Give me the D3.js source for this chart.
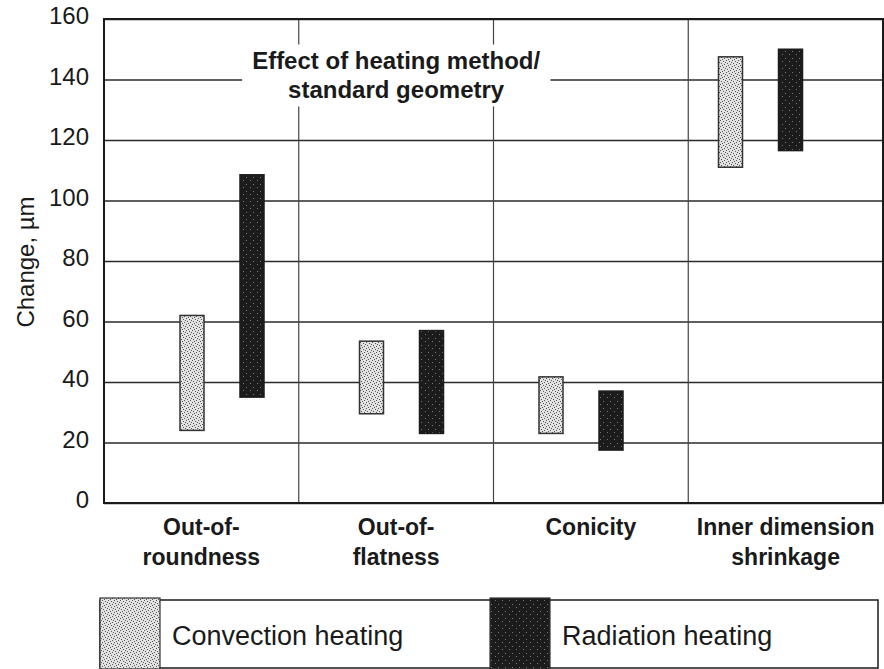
<!DOCTYPE html>
<html>
<head>
<meta charset="utf-8">
<script src="https://cdn.jsdelivr.net/npm/d3@7"></script>
<style>
  body { margin: 0; background: #fff; }
  svg { display: block; }
  text { font-family: "Liberation Sans", Arial, sans-serif; fill: #1a1a1a; }
</style>
</head>
<body>
<svg width="884" height="669"></svg>
<script>
// data
var categories = ["Out-of-roundness", "Out-of-flatness", "Conicity", "Inner dimension shrinkage"];
var catLabels = [["Out-of-", "roundness"], ["Out-of-", "flatness"], ["Conicity"], ["Inner dimension", "shrinkage"]];
var series = ["Convection heating", "Radiation heating"];
var convLow  = [24, 29.5, 23, 111];
var convHigh = [62, 53.5, 41.7, 147.5];
var radLow   = [35, 23, 17.5, 116.5];
var radHigh  = [108.5, 57, 37, 150];
var yTicks = [0, 20, 40, 60, 80, 100, 120, 140, 160];
var title = ["Effect of heating method/", "standard geometry"];
var yTitle = "Change, \u00b5m";

var svg = d3.select('svg');
var pLeft = 104, pRight = 883, pTop = 19, pBottom = 503;

var y = d3.scaleLinear().domain([0, 160]).range([pBottom, pTop]);
var xPanel = d3.scaleBand().domain(categories).range([pLeft, pRight]);
var xPair = d3.scaleBand().domain(categories).range([132, 850]);
var xSub = d3.scaleBand().domain(series).range([48, 132]).paddingInner(0.6);

// patterns for the stippled fills
var defs = svg.append('defs');
var p1 = defs.append('pattern').attr('id', 'conv').attr('patternUnits', 'userSpaceOnUse')
  .attr('width', 6).attr('height', 6);
p1.append('rect').attr('width', 6).attr('height', 6).attr('fill', '#e2e2e2');
[[0,0],[3,1],[1,3],[4,4],[2,5],[5,2]].forEach(function(d){
  p1.append('rect').attr('x', d[0]).attr('y', d[1]).attr('width', 1).attr('height', 1).attr('fill', '#555');
});
var p2 = defs.append('pattern').attr('id', 'rad').attr('patternUnits', 'userSpaceOnUse')
  .attr('width', 7).attr('height', 7);
p2.append('rect').attr('width', 7).attr('height', 7).attr('fill', '#1c1c1c');
[[1,2],[5,5]].forEach(function(d){
  p2.append('rect').attr('x', d[0]).attr('y', d[1]).attr('width', 1).attr('height', 1).attr('fill', '#777');
});

// gridlines + y labels
var yAxis = svg.append('g')
  .attr('transform', 'translate(' + pLeft + ',0)')
  .call(d3.axisLeft(y).tickValues(yTicks).tickSize(-(pRight - pLeft)).tickPadding(15));
yAxis.select('.domain').remove();
yAxis.selectAll('line').attr('stroke', '#2a2a2a').attr('stroke-width', 1.3);
yAxis.selectAll('text')
  .attr('dy', '0.2em')
  .style('font-size', '24px')
  .style('font-family', '"Liberation Sans", Arial, sans-serif')
  .attr('fill', '#1a1a1a');

// panel dividers
svg.selectAll('.divider')
  .data(categories.slice(1))
  .enter()
  .append('line')
  .attr('class', 'divider')
  .attr('x1', function(d){ return xPanel(d); })
  .attr('x2', function(d){ return xPanel(d); })
  .attr('y1', pTop).attr('y2', pBottom)
  .attr('stroke', '#444').attr('stroke-width', 1.2);

// frame
svg.append('rect')
  .attr('x', pLeft).attr('y', pTop)
  .attr('width', pRight - pLeft).attr('height', pBottom - pTop)
  .attr('fill', 'none').attr('stroke', '#1a1a1a').attr('stroke-width', 2);

// title with white box behind it
var tx = xPanel(categories[1]) + xPanel.bandwidth() / 2;
var tg = svg.append('g');
var tbox = tg.append('rect').attr('fill', '#fff');
var tt = tg.append('text')
  .attr('text-anchor', 'middle')
  .style('font-size', '24px').style('font-weight', 'bold');
tt.selectAll('tspan').data(title).enter().append('tspan')
  .attr('x', tx)
  .attr('y', function(d, i){ return y(140) - 11 + i * 29; })
  .text(function(d){ return d; });
var bb = tt.node().getBBox();
tbox.attr('x', bb.x - 10).attr('y', bb.y - 2).attr('width', bb.width + 20).attr('height', bb.height + 6);

// bars
var rows = categories.map(function(c, i){
  return [
    {cat: c, s: series[0], lo: convLow[i], hi: convHigh[i]},
    {cat: c, s: series[1], lo: radLow[i], hi: radHigh[i]}
  ];
});
var flat = [].concat.apply([], rows);
svg.selectAll('.bar')
  .data(flat)
  .enter()
  .append('rect')
  .attr('class', 'bar')
  .attr('x', function(d){ return xPair(d.cat) + xSub(d.s); })
  .attr('width', xSub.bandwidth())
  .attr('y', function(d){ return y(d.hi); })
  .attr('height', function(d){ return y(d.lo) - y(d.hi); })
  .attr('fill', function(d){ return d.s === series[0] ? 'url(#conv)' : 'url(#rad)'; })
  .attr('stroke', function(d){ return d.s === series[0] ? '#333' : '#1c1c1c'; })
  .attr('stroke-width', 1.5);

// category labels
var xl = svg.selectAll('.xlab')
  .data(categories)
  .enter()
  .append('text')
  .attr('class', 'xlab')
  .attr('text-anchor', 'middle')
  .style('font-size', '23px').style('font-weight', 'bold');
xl.selectAll('tspan')
  .data(function(d, i){ return catLabels[i].map(function(t){ return {cat: d, t: t}; }); })
  .enter()
  .append('tspan')
  .attr('x', function(d){ return xPanel(d.cat) + xPanel.bandwidth() / 2; })
  .attr('y', function(d, i){ return 535 + i * 30; })
  .text(function(d){ return d.t; });

// y axis title
svg.append('text')
  .text(yTitle)
  .attr('transform', 'translate(34,262)rotate(-90)')
  .attr('text-anchor', 'middle')
  .style('font-size', '24px');

// legend
var lg = svg.append('g');
lg.append('rect')
  .attr('x', 100).attr('y', 600).attr('width', 778).attr('height', 68)
  .attr('fill', 'none').attr('stroke', '#1a1a1a').attr('stroke-width', 1.5);
var legendX = [100, 490];
lg.selectAll('.sw')
  .data(series)
  .enter()
  .append('rect')
  .attr('class', 'sw')
  .attr('x', function(d, i){ return legendX[i]; })
  .attr('y', 598).attr('width', 60).attr('height', 71)
  .attr('fill', function(d, i){ return i === 0 ? 'url(#conv)' : 'url(#rad)'; })
  .attr('stroke', '#333').attr('stroke-width', 1.2);
lg.selectAll('.lt')
  .data(series)
  .enter()
  .append('text')
  .attr('class', 'lt')
  .attr('x', function(d, i){ return legendX[i] + 72; })
  .attr('y', 645)
  .style('font-size', '27px')
  .text(function(d){ return d; });
</script>
</body>
</html>
